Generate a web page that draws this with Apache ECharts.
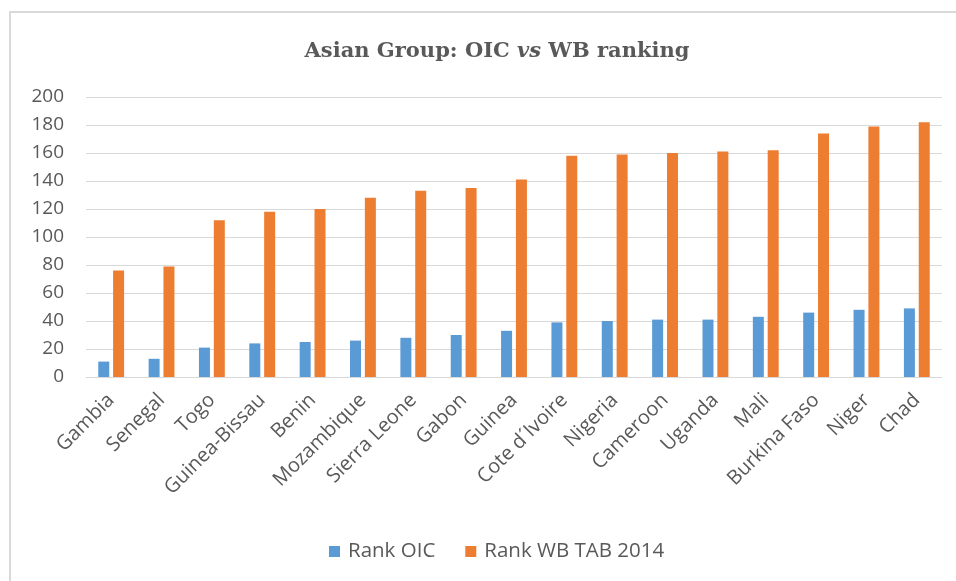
<!DOCTYPE html>
<html><head><meta charset="utf-8">
<script src="https://cdn.jsdelivr.net/npm/echarts@6/dist/echarts.min.js"></script>
<style>html,body{margin:0;padding:0;background:#fff}#c{width:956px;height:581px}</style>
</head><body><div id="c"></div>
<script>
const categories = ['Gambia','Senegal','Togo','Guinea-Bissau','Benin','Mozambique','Sierra Leone','Gabon','Guinea','Cote d\u00b4Ivoire','Nigeria','Cameroon','Uganda','Mali','Burkina Faso','Niger','Chad'];
const rankOIC = [11,13,21,24,25,26,28,30,33,39,40,41,41,43,46,48,49];
const rankWB = [76,79,112,118,120,128,133,135,141,158,159,160,161,162,174,179,182];
const yTicks = {min:0, max:200, interval:20};

const chart = echarts.init(document.getElementById('c'));
chart.setOption({
  animation:false,
  graphic:[{type:'rect',shape:{x:10,y:12,width:1000,height:600},style:{fill:'none',stroke:'#d9d9d9',lineWidth:2},silent:true}],
  title:{
    text:'{a|Asian Group: OIC }{b|vs}{a| WB ranking}',
    left:492, textAlign:'center', top:36,
    textStyle:{rich:{
      a:{fontFamily:'DejaVu Serif',fontWeight:'bold',fontSize:21,color:'#595959'},
      b:{fontFamily:'DejaVu Serif',fontWeight:'bold',fontStyle:'italic',fontSize:21,color:'#595959'}
    }}
  },
  legend:{
    bottom:14, left:324, itemWidth:11, itemHeight:11, itemGap:30,
    icon:'rect',
    textStyle:{fontFamily:'Open Sans',fontSize:20.5,color:'#595959',padding:[0,0,0,3]}
  },
  grid:{left:86,right:14,top:97,bottom:204,containLabel:false},
  xAxis:{
    type:'category', data:categories,
    axisTick:{show:false},
    axisLine:{lineStyle:{color:'#d9d9d9'}},
    axisLabel:{rotate:45,interval:0,fontFamily:'Open Sans',fontSize:20,color:'#595959',margin:20}
  },
  yAxis:{
    type:'value', min:yTicks.min, max:yTicks.max, interval:yTicks.interval,
    axisLine:{show:false}, axisTick:{show:false},
    splitLine:{lineStyle:{color:'#d9d9d9',width:1}},
    axisLabel:{fontFamily:'Open Sans',fontSize:19,color:'#595959',margin:22}
  },
  series:[
    {name:'Rank OIC',type:'bar',data:rankOIC,barWidth:11,barGap:'35%',itemStyle:{color:'#5B9BD5'}},
    {name:'Rank WB TAB 2014',type:'bar',data:rankWB,barWidth:11,itemStyle:{color:'#ED7D31'}}
  ]
});
</script></body></html>
